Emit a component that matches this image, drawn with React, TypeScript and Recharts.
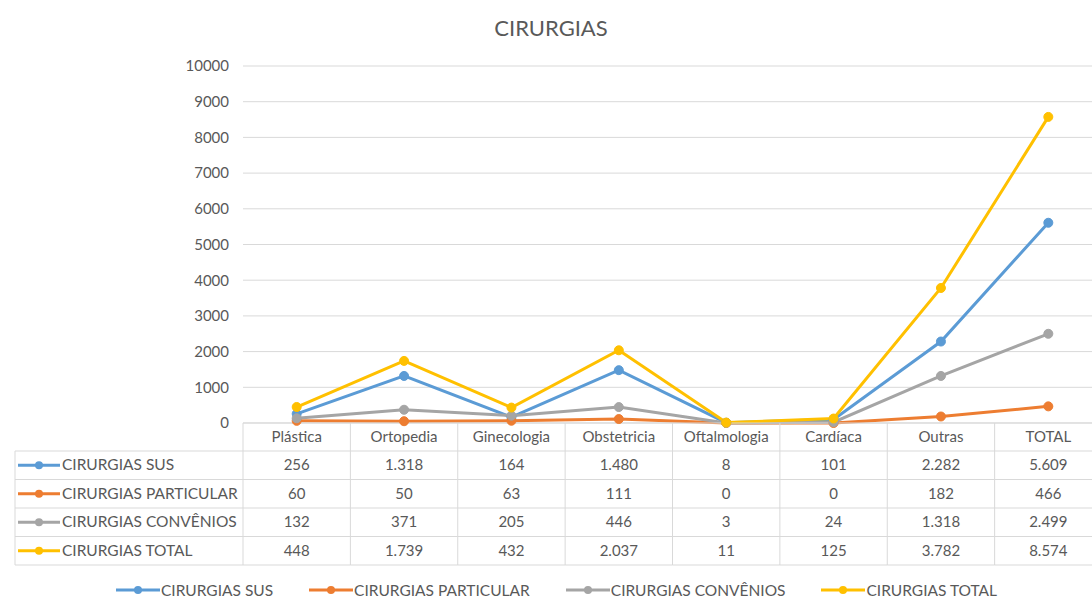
import React from 'react';
import { LineChart, Line, XAxis, YAxis, CartesianGrid } from 'recharts';

const categories = ['Plástica', 'Ortopedia', 'Ginecologia', 'Obstetricia', 'Oftalmologia', 'Cardíaca', 'Outras', 'TOTAL'];
const susValues = [256, 1318, 164, 1480, 8, 101, 2282, 5609];
const particularValues = [60, 50, 63, 111, 0, 0, 182, 466];
const conveniosValues = [132, 371, 205, 446, 3, 24, 1318, 2499];
const totalValues = [448, 1739, 432, 2037, 11, 125, 3782, 8574];
const yTicks = [0, 1000, 2000, 3000, 4000, 5000, 6000, 7000, 8000, 9000, 10000];
const seriesKeys = ['sus', 'particular', 'convenios', 'total'];
const seriesNames = ['CIRURGIAS SUS', 'CIRURGIAS PARTICULAR', 'CIRURGIAS CONVÊNIOS', 'CIRURGIAS TOTAL'];
const seriesColors = ['#5B9BD5', '#ED7D31', '#A5A5A5', '#FFC000'];
const seriesValues = [susValues, particularValues, conveniosValues, totalValues];

const data = categories.map((cat, i) => ({
  cat,
  sus: susValues[i],
  particular: particularValues[i],
  convenios: conveniosValues[i],
  total: totalValues[i],
}));

const FONT = 'Lato, "DejaVu Sans", sans-serif';
const TEXT = '#595959';
const GRID = '#D9D9D9';
const HEADER_H = 28;
const ROW_H = 28.5;
const TABLE_LEFT = 15;

const fmt = (n: number) => String(n).replace(/\B(?=(\d{3})+(?!\d))/g, '.');

function LegendIcon({ color }: { color: string }) {
  return (
    <svg width={44} height={10} style={{ display: 'block' }}>
      <line x1={0} y1={5} x2={44} y2={5} stroke={color} strokeWidth={3} />
      <circle cx={22} cy={5} r={4} fill={color} />
    </svg>
  );
}

function TableTick(props: any) {
  const { x, y, payload } = props;
  const i: number = payload.index;
  const half: number = payload.offset || 53.6;
  const left = x - half;
  const right = x + half;
  const bottom = y + HEADER_H + ROW_H * 4;
  const els: any[] = [];
  els.push(
    <text key="h" x={x} y={y + 19} textAnchor="middle" fill={TEXT} fontSize={15} fontFamily={FONT}>
      {categories[i]}
    </text>
  );
  els.push(<line key="vr" x1={right} x2={right} y1={y} y2={bottom} stroke={GRID} strokeWidth={1} />);
  if (i === 0) {
    els.push(<line key="vl" x1={left} x2={left} y1={y} y2={bottom} stroke={GRID} strokeWidth={1} />);
    els.push(<line key="tl" x1={TABLE_LEFT} x2={TABLE_LEFT} y1={y + HEADER_H} y2={bottom} stroke={GRID} strokeWidth={1} />);
  }
  for (let r = 0; r <= 4; r++) {
    const ly = y + HEADER_H + r * ROW_H;
    els.push(
      <line key={'hl' + r} x1={i === 0 ? TABLE_LEFT : left} x2={right} y1={ly} y2={ly} stroke={GRID} strokeWidth={1} />
    );
  }
  for (let r = 0; r < 4; r++) {
    const cy = y + HEADER_H + r * ROW_H + ROW_H / 2;
    els.push(
      <text key={'v' + r} x={x} y={cy + 5} textAnchor="middle" fill={TEXT} fontSize={15} fontFamily={FONT}>
        {fmt(seriesValues[r][i])}
      </text>
    );
    if (i === 0) {
      els.push(
        <g key={'lab' + r}>
          <line x1={TABLE_LEFT + 3} x2={TABLE_LEFT + 45} y1={cy} y2={cy} stroke={seriesColors[r]} strokeWidth={3} />
          <circle cx={TABLE_LEFT + 24} cy={cy} r={4} fill={seriesColors[r]} />
          <text x={TABLE_LEFT + 47} y={cy + 5} fill={TEXT} fontSize={15.5} fontFamily={FONT}>
            {seriesNames[r]}
          </text>
        </g>
      );
    }
  }
  return <g>{els}</g>;
}

export default function App() {
  return (
    <div
      style={{
        position: 'fixed',
        left: 0,
        top: 0,
        width: 1092,
        height: 600,
        overflow: 'hidden',
        background: '#fff',
        fontFamily: FONT,
      }}
    >
      <div
        style={{
          position: 'absolute',
          left: 451,
          width: 200,
          top: 14,
          textAlign: 'center',
          fontSize: 22,
          color: TEXT,
        }}
      >
        CIRURGIAS
      </div>
      <LineChart width={1112} height={600} data={data} margin={{ top: 66, right: 10, bottom: 27, left: 183 }}>
        <CartesianGrid horizontal={true} vertical={false} stroke={GRID} strokeWidth={1} />
        <XAxis
          dataKey="cat"
          scale="band"
          height={150}
          interval={0}
          tickLine={false}
          tickSize={0}
          tickMargin={0}
          axisLine={{ stroke: GRID, strokeWidth: 1 }}
          tick={(p: any) => <TableTick {...p} />}
        />
        <YAxis
          domain={[0, 10000]}
          ticks={yTicks}
          width={60}
          axisLine={false}
          tickLine={false}
          tickSize={0}
          tickMargin={14}
          tick={{ fill: TEXT, fontSize: 15, fontFamily: FONT }}
        />
        {seriesKeys.map((k, idx) => (
          <Line
            key={k}
            type="linear"
            dataKey={k}
            name={seriesNames[idx]}
            stroke={seriesColors[idx]}
            strokeWidth={3}
            dot={{ r: 4.5, fill: seriesColors[idx], stroke: seriesColors[idx], strokeWidth: 1 }}
            isAnimationActive={false}
          />
        ))}
      </LineChart>
      <div
        style={{
          position: 'absolute',
          left: 116,
          top: 581,
          display: 'flex',
          alignItems: 'center',
          fontSize: 15.5,
          color: TEXT,
          whiteSpace: 'nowrap',
        }}
      >
        {seriesNames.map((n, idx) => (
          <div key={n} style={{ display: 'flex', alignItems: 'center', marginRight: 36 }}>
            <LegendIcon color={seriesColors[idx]} />
            <span style={{ marginLeft: 1, lineHeight: '18px' }}>{n}</span>
          </div>
        ))}
      </div>
    </div>
  );
}
